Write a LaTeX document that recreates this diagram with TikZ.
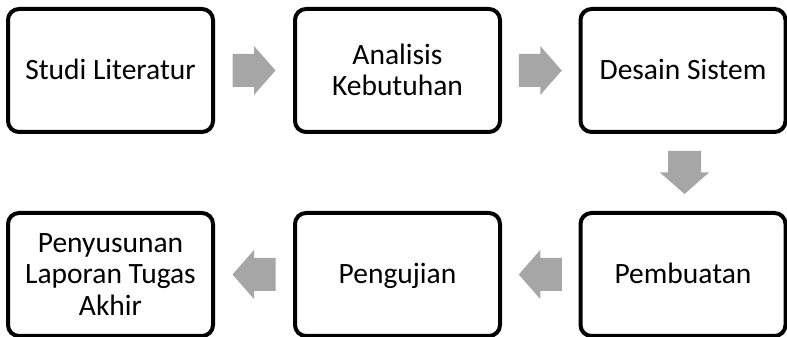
\documentclass[tikz,border=0pt]{standalone}
\usepackage{fontspec}
\setmainfont{Carlito}
\usetikzlibrary{calc}
\definecolor{arrowgray}{HTML}{A6A6A6}
% every line gets the same height and depth, so baselines sit evenly in the boxes
\newcommand{\stagestrut}{\rule[-5pt]{0pt}{29pt}}
\tikzset{
  stage/.style={draw=black, line width=4pt, rounded corners=11pt, fill=white,
    minimum width=205pt, minimum height=123pt, inner sep=0pt, align=center,
    font=\fontsize{29.5}{31.5}\selectfont},
  flowarrow/.pic={\fill[arrowgray] (-21.5,-16.5) -- (0,-16.5) -- (0,-24.5) -- (21.5,0)
    -- (0,24.5) -- (0,16.5) -- (-21.5,16.5) -- cycle;}
}
\begin{document}
\begin{tikzpicture}[x=1pt,y=1pt]
  \useasboundingbox (0,0) rectangle (787,337);
  % top row, left to right
  \node[stage] (lit) at (110.5,266.5) {\stagestrut Studi Literatur};
  \node[stage] (ana) at (397.5,266.5) {\stagestrut Analisis\\\stagestrut Kebutuhan};
  \node[stage] (des) at (683,266.5) {\stagestrut Desain Sistem};
  % bottom row, right to left
  \node[stage] (bua) at (683,62.5) {\stagestrut Pembuatan};
  \node[stage] (uji) at (397.5,62.5) {\stagestrut Pengujian};
  \node[stage] (lap) at (110.5,62.5) {\stagestrut Penyusunan\\\stagestrut Laporan Tugas\\\stagestrut Akhir};
  % block arrows between the stages
  \pic at ($(lit.east)!0.5!(ana.west)$) {flowarrow};
  \pic at ($(ana.east)!0.5!(des.west)$) {flowarrow};
  \pic[rotate=-90] at ($(des.south)!0.5!(bua.north)+(1.5,0)$) {flowarrow};
  \pic[rotate=180] at ($(bua.west)!0.5!(uji.east)$) {flowarrow};
  \pic[rotate=180] at ($(uji.west)!0.5!(lap.east)$) {flowarrow};
\end{tikzpicture}
\end{document}
